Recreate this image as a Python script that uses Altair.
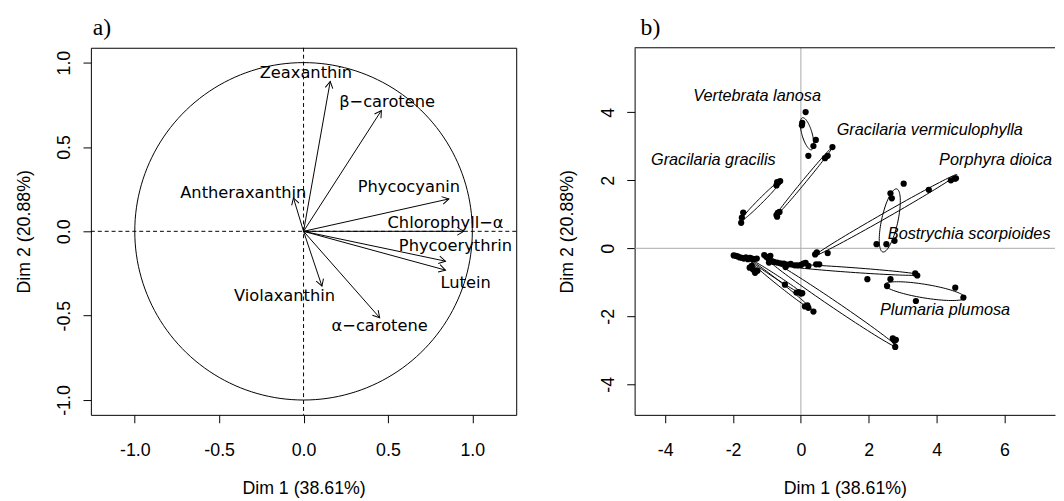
import altair as alt
import numpy as np
import pandas as pd

# ---------------- Panel a: variables factor map ----------------
var_names = ["Zeaxanthin", "β−carotene", "Antheraxanthin", "Phycocyanin",
             "Chlorophyll−α", "Phycoerythrin", "Lutein", "Violaxanthin", "α−carotene"]
var_x = [0.158, 0.461, -0.060, 0.861, 0.950, 0.841, 0.841, 0.109, 0.451]
var_y = [0.888, 0.716, 0.198, 0.192, 0.000, -0.177, -0.230, -0.325, -0.512]
var_label_x = [0.014, 0.495, -0.357, 0.624, 0.841, 0.900, 0.960, -0.113, 0.451]
var_label_y = [0.937, 0.764, 0.224, 0.261, 0.050, -0.088, -0.305, -0.383, -0.560]

a_ticks = [-1.0, -0.5, 0.0, 0.5, 1.0]

# ---------------- Panel b: individuals factor map ----------------
pts_x = [
    0.14, 0.04, 0.03, 0.44, 0.37, 0.22,
    -1.76, -1.74, -1.70, -0.72, -0.67, -0.61, -0.70,
    -0.72, -0.68, -0.63, -0.70, 0.71, 0.79, 0.93,
    0.47, 0.42, 0.79, 3.77, 4.42, 4.53, 4.57,
    2.64, 2.68, 3.03, 2.23, 2.52, 2.76,
    1.96, 2.64, 2.54, 4.55, 4.79, 3.39,
    3.37, 3.43,
    2.71, 2.80, 2.76, 2.78,
    -0.47, -0.13, -0.06, 0.00, 0.04, 0.12, 0.19, 0.22, 0.37,
    -1.98, -1.92, -1.86, -1.80, -1.74, -1.68, -1.62, -1.56, -1.50, -1.44, -1.38, -1.30,
    -1.08, -1.02, -0.96, -0.90, -0.86, -0.94, -0.80, -0.70, -0.60, -0.50, -0.45, -0.40,
    -0.30, -0.18, -0.10, 0.00, 0.07, 0.14, 0.22, 0.45, 0.54,
    -1.51, -1.45, -1.41, -1.35, -1.28,
]
pts_y = [
    4.01, 3.69, 3.62, 3.19, 3.01, 2.72,
    0.75, 0.90, 1.05, 1.85, 1.93, 1.98, 1.95,
    0.98, 1.04, 1.07, 0.93, 2.65, 2.72, 2.98,
    -0.12, -0.18, -0.14, 1.72, 2.00, 2.05, 2.06,
    1.62, 1.47, 1.90, 0.12, 0.12, 0.22,
    -0.91, -0.91, -1.11, -1.16, -1.45, -1.55,
    -0.74, -0.80,
    -2.65, -2.69, -2.72, -2.90,
    -1.07, -1.30, -1.29, -1.33, -1.32, -1.71, -1.68, -1.75, -1.86,
    -0.21, -0.22, -0.24, -0.27, -0.28, -0.30, -0.27, -0.32, -0.28, -0.30, -0.32, -0.30,
    -0.20, -0.25, -0.30, -0.22, -0.38, -0.42, -0.40, -0.42, -0.44, -0.45, -0.55, -0.48,
    -0.46, -0.50, -0.50, -0.49, -0.45, -0.43, -0.52, -0.47, -0.47,
    -0.57, -0.52, -0.62, -0.72, -0.66,
]

# confidence ellipses: centre, semi-axes, orientation (degrees)
ell_cx = [0.18, -1.18, 0.09, 2.51, 2.62, 3.65, 1.40, 0.95, -0.74, -0.60]
ell_cy = [3.37, 1.40, 1.96, 0.98, 0.82, -1.26, -0.63, -1.63, -0.83, -1.07]
ell_a = [0.49, 0.85, 1.30, 2.40, 0.95, 1.20, 2.10, 2.29, 0.97, 1.15]
ell_b = [0.15, 0.07, 0.05, 0.08, 0.24, 0.20, 0.07, 0.10, 0.05, 0.06]
ell_phi = [106.0, 45.0, 50.4, 29.7, 77.6, -9.3, -4.1, -34.1, -33.0, -38.5]

species = ["Vertebrata lanosa", "Gracilaria vermiculophylla", "Gracilaria gracilis",
           "Porphyra dioica", "Bostrychia scorpioides", "Plumaria plumosa"]
species_x = [-1.29, 3.80, -2.58, 5.74, 4.96, 4.25]
species_y = [4.48, 3.49, 2.60, 2.60, 0.42, -1.81]

b_xticks = [-4, -2, 0, 2, 4, 6]
b_yticks = [-4, -2, 0, 2, 4]

# ---------------- styling ----------------
AX_FONT = "Liberation Sans"
FS = 18
MINUS_FIX = "replace(datum.label, '\u2212', '-')"


def x_axis(values, fmt):
    return alt.Axis(values=values, format=fmt, title="Dim 1 (38.61%)", grid=False,
                    domain=False, tickSize=8, tickColor="black", labelColor="black",
                    labelFont=AX_FONT, labelFontSize=FS, labelPadding=19,
                    labelExpr=MINUS_FIX, titleFont=AX_FONT, titleFontSize=FS,
                    titleFontWeight="normal", titleColor="black", titlePadding=21,
                    labelFlush=False)


def y_axis(values, fmt):
    return alt.Axis(values=values, format=fmt, title="Dim 2 (20.88%)", grid=False,
                    domain=False, tickSize=8, tickColor="black", labelColor="black",
                    labelFont=AX_FONT, labelFontSize=FS, labelPadding=9.5,
                    labelAngle=270, labelAlign="center", labelBaseline="bottom",
                    labelExpr=MINUS_FIX, titleFont=AX_FONT, titleFontSize=FS,
                    titleFontWeight="normal", titleColor="black", titlePadding=23,
                    labelFlush=False)


W_A, H = 431, 372
W_B = 426


def panel_title(txt, dx):
    return alt.TitleParams(txt, anchor="start", frame="group", font="Liberation Serif",
                           fontSize=24, fontWeight="normal", color="black", dx=dx,
                           offset=-12, baseline="alphabetic")


# ---------------- build panel a ----------------
xa = alt.Scale(domain=[-1.26, 1.26], nice=False, zero=False)
ya = alt.Scale(domain=[-1.088, 1.088], nice=False, zero=False)

vars_df = pd.DataFrame({
    "name": var_names, "x": var_x, "y": var_y,
    "lx": var_label_x, "ly": var_label_y,
})
vars_df["x0"] = 0.0
vars_df["y0"] = 0.0
vars_df["ang"] = np.mod(np.degrees(np.arctan2(-vars_df["y"], vars_df["x"])), 360)

circle = alt.Chart(alt.sequence(0, 362, 2, as_="t")).transform_calculate(
    cx="cos(datum.t * PI / 180)", cy="sin(datum.t * PI / 180)"
).mark_line(color="black", strokeWidth=1).encode(
    x=alt.X("cx:Q", scale=xa, axis=x_axis(a_ticks, ".1f")),
    y=alt.Y("cy:Q", scale=ya, axis=y_axis(a_ticks, ".1f")),
    order="t:Q",
)

zero_df = pd.DataFrame({"v": [0.0]})
vline_a = alt.Chart(zero_df).mark_rule(color="black", strokeDash=[4, 3], strokeWidth=1).encode(
    x=alt.X("v:Q", scale=xa))
hline_a = alt.Chart(zero_df).mark_rule(color="black", strokeDash=[4, 3], strokeWidth=1).encode(
    y=alt.Y("v:Q", scale=ya))

arrows = alt.Chart(vars_df).mark_rule(color="black", strokeWidth=1).encode(
    x=alt.X("x0:Q", scale=xa), y=alt.Y("y0:Q", scale=ya), x2="x:Q", y2="y:Q")

heads = alt.Chart(vars_df).mark_point(
    shape="M -1 -0.577 L 0 0 L -1 0.577", size=180, filled=False,
    color="black", strokeWidth=1, opacity=1,
).encode(x=alt.X("x:Q", scale=xa), y=alt.Y("y:Q", scale=ya),
         angle=alt.Angle("ang:Q", scale=None))

var_text = alt.Chart(vars_df).mark_text(
    font="DejaVu Sans", fontSize=16.5, color="black", baseline="middle", align="center"
).encode(x=alt.X("lx:Q", scale=xa), y=alt.Y("ly:Q", scale=ya), text="name:N")

panel_a = alt.layer(circle, vline_a, hline_a, arrows, heads, var_text).properties(
    width=W_A, height=H,
    title=panel_title("a)", 2),
    view=alt.ViewBackground(stroke="black", strokeWidth=1),
)

# ---------------- build panel b ----------------
xb = alt.Scale(domain=[-4.9, 7.49], nice=False, zero=False)
yb = alt.Scale(domain=[-4.9, 5.9], nice=False, zero=False)

pts_df = pd.DataFrame({"x": pts_x, "y": pts_y})
ell_df = pd.DataFrame({"id": list(range(len(ell_cx))), "cx": ell_cx, "cy": ell_cy,
                       "a": ell_a, "b": ell_b, "phi": ell_phi})
ell_df["t"] = [list(range(0, 361, 4))] * len(ell_df)
sp_df = pd.DataFrame({"name": species, "x": species_x, "y": species_y})

xb_axis = x_axis(b_xticks, "d")
xb_axis.domain = True
xb_axis.domainColor = "black"
yb_axis = y_axis(b_yticks, "d")
yb_axis.domain = True
yb_axis.domainColor = "black"

vline_b = alt.Chart(zero_df).mark_rule(color="#a8a8a8", strokeWidth=1).encode(
    x=alt.X("v:Q", scale=xb, axis=xb_axis))
hline_b = alt.Chart(zero_df).mark_rule(color="#a8a8a8", strokeWidth=1).encode(
    y=alt.Y("v:Q", scale=yb, axis=yb_axis))

top_border = alt.Chart(zero_df).mark_rule(color="black", strokeWidth=1).encode(
    x=alt.value(0), x2=alt.value(W_B), y=alt.value(0))

ellipses = alt.Chart(ell_df).transform_flatten(["t"]).transform_calculate(
    ex="datum.cx + datum.a*cos(datum.t*PI/180)*cos(datum.phi*PI/180) - datum.b*sin(datum.t*PI/180)*sin(datum.phi*PI/180)",
    ey="datum.cy + datum.a*cos(datum.t*PI/180)*sin(datum.phi*PI/180) + datum.b*sin(datum.t*PI/180)*cos(datum.phi*PI/180)",
).mark_line(color="black", strokeWidth=1).encode(
    x=alt.X("ex:Q", scale=xb), y=alt.Y("ey:Q", scale=yb),
    detail="id:N", order="t:Q")

points = alt.Chart(pts_df).mark_circle(size=40, color="black", opacity=1).encode(
    x=alt.X("x:Q", scale=xb), y=alt.Y("y:Q", scale=yb))

sp_text = alt.Chart(sp_df).mark_text(
    font="Liberation Sans", fontStyle="italic", fontSize=16.5, color="black",
    baseline="middle", align="center"
).encode(x=alt.X("x:Q", scale=xb), y=alt.Y("y:Q", scale=yb), text="name:N")

panel_b = alt.layer(vline_b, hline_b, top_border, ellipses, points, sp_text).properties(
    width=W_B, height=H,
    title=panel_title("b)", 6),
    view=alt.ViewBackground(stroke="transparent"),
)

chart = alt.hconcat(panel_a, panel_b, spacing=120, bounds="flush").properties(
    padding={"left": 7, "top": 5, "right": 0, "bottom": 0},
    background="white",
).configure_view(stroke=None)

chart.save("out.html", embed_options={"renderer": "svg", "actions": False})
